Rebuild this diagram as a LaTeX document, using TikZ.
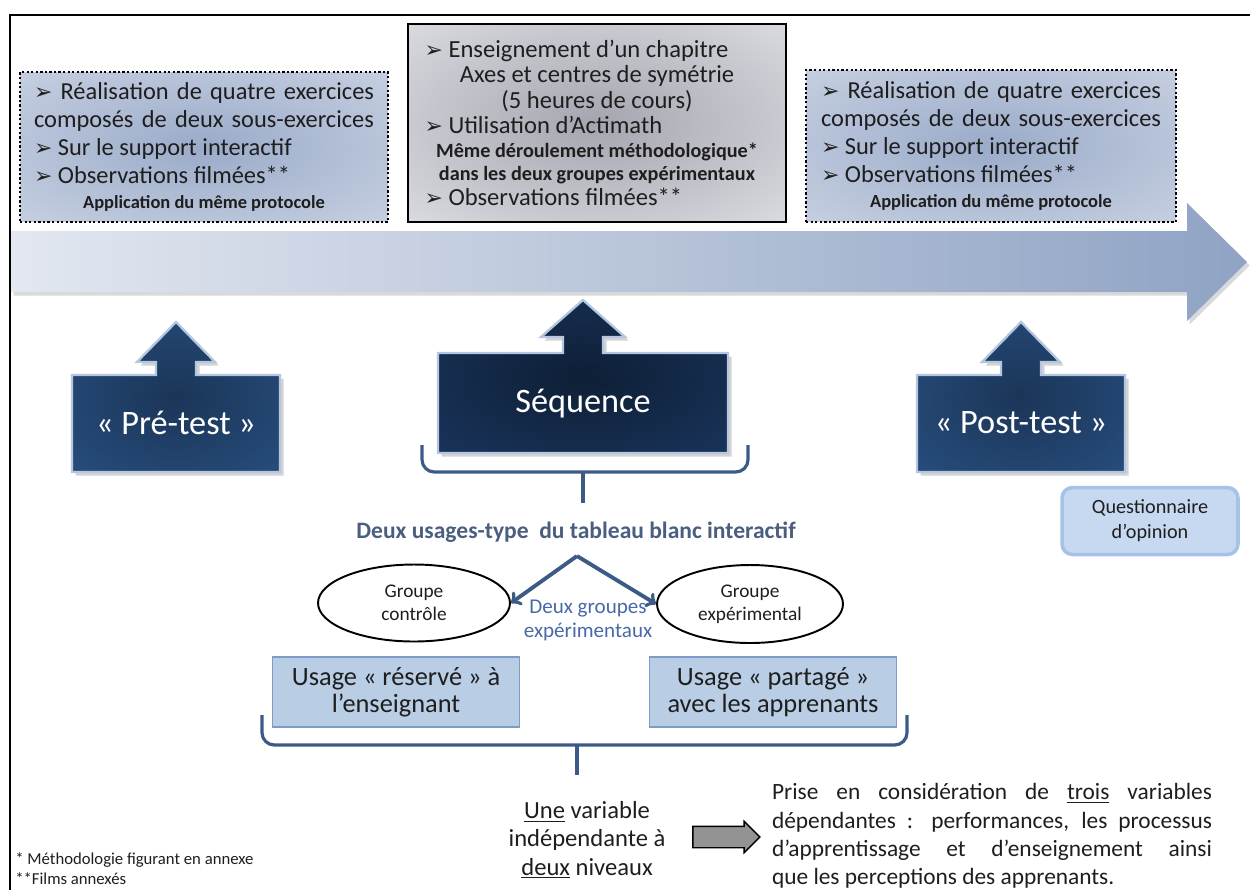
\documentclass[tikz,border=0pt]{standalone}
\usepackage{fontspec}
\setmainfont{Carlito}
\newfontfamily\symfont{DejaVu Sans}
\usetikzlibrary{shadows,shapes.geometric,shapes.arrows,positioning}

\definecolor{encre}{HTML}{1E1E1E}
\definecolor{axeA}{HTML}{E2E7F0}
\definecolor{axeB}{HTML}{8FA3C4}
\definecolor{voile}{HTML}{9AABC9}
\definecolor{voilebord}{HTML}{E4E8F1}
\definecolor{gris}{HTML}{A4A5AF}
\definecolor{grisbord}{HTML}{F0F1F4}
\definecolor{navyA}{HTML}{1B3558}
\definecolor{navyB}{HTML}{2E5C92}
\definecolor{nuitA}{HTML}{0E1F36}
\definecolor{nuitB}{HTML}{204070}
\definecolor{testbord}{HTML}{B4C6E0}
\definecolor{fleche}{HTML}{3B5A86}
\definecolor{bleutxt}{HTML}{4A5F80}
\definecolor{bleugr}{HTML}{4868A8}
\definecolor{usagefond}{HTML}{B9CDE5}
\definecolor{usagebord}{HTML}{7F9CC6}
\definecolor{questfond}{HTML}{C6D9F0}
\definecolor{questbord}{HTML}{A6C2E8}

\pgfdeclareradialshading{voileshade}{\pgfpoint{0bp}{0bp}}{color(0bp)=(voile); color(60bp)=(voilebord); color(80bp)=(voilebord)}
\pgfdeclareradialshading{grisshade}{\pgfpoint{0bp}{0bp}}{color(0bp)=(gris); color(50bp)=(grisbord); color(80bp)=(grisbord)}
\pgfdeclareradialshading{navyshade}{\pgfpoint{0bp}{0bp}}{color(0bp)=(navyA); color(58bp)=(navyB); color(80bp)=(navyB)}
\pgfdeclareradialshading{nuitshade}{\pgfpoint{0bp}{0bp}}{color(0bp)=(nuitA); color(58bp)=(nuitB); color(80bp)=(nuitB)}

\newcommand{\puce}{{\symfont\fontsize{12.5}{12.5}\selectfont ➢}\ }

\begin{document}
\begin{tikzpicture}[x=0.02cm, y=-0.02cm,
		protobox/.style={draw=black, line width=1.3pt, dash pattern=on 1.3pt off 1.3pt, shade, shading=voileshade, text width=6.8cm, align=justify, inner xsep=0.28cm, text=encre, font=\fontsize{13.9}{15.9}\selectfont},
		coursbox/.style={draw=black, line width=1.3pt, shade, shading=grisshade, text width=6.9cm, align=justify, inner xsep=0.33cm, text=encre, font=\fontsize{14}{14.5}\selectfont},
		testcadre/.style={draw=testbord, line width=1.3pt, shade, drop shadow={opacity=.35, shadow xshift=2pt, shadow yshift=-2pt}},
		testlabel/.style={text=white, font=\fontsize{19.5}{22}\selectfont},
		accolade/.style={draw=fleche, line width=1.8pt, rounded corners=7},
		groupe/.style={draw, ellipse, line width=1.1pt, align=center, text=encre, font=\fontsize{11}{13}\selectfont},
		usage/.style={draw=usagebord, fill=usagefond, line width=0.6pt, minimum width=4.95cm, minimum height=1.4cm, align=center, text=encre, font=\fontsize{15}{15.5}\selectfont}
	]

	\useasboundingbox (0,0) rectangle (1250,890);
	\draw[line width=1.15pt] (10,890) -- (10,15) -- (1250,15);

	\path[left color=axeA, right color=axeB, drop shadow={opacity=.3, shadow xshift=1.5pt, shadow yshift=-2pt}] (11,231) -- (1187,231) -- (1187,203) -- (1247,262) -- (1187,321) -- (1187,292) -- (11,292) -- cycle;

	\node[protobox, minimum width=7.36cm, minimum height=3cm] (pre) at (204,147) {
		\makebox[\hsize][s]{\puce Réalisation de quatre exercices}\par
		\makebox[\hsize][s]{composés de deux sous-exercices}\par
		\puce Sur le support interactif\par
		\puce Observations filmées**\par
		{\centering\bfseries\fontsize{10.5}{14.2}\selectfont Application du même protocole\par}
	};

	\node[coursbox, minimum width=7.56cm, minimum height=3.96cm] (cours) at (597,123) {
		\puce Enseignement d’un chapitre\par
		{\centering Axes et centres de symétrie\par
		(5 heures de cours)\par}
		\puce Utilisation d’Actimath\par
		{\centering\bfseries\fontsize{11.5}{13.3}\selectfont Même déroulement méthodologique*\par
		dans les deux groupes expérimentaux\par}
		\puce Observations filmées**
	};

	\node[protobox, minimum width=7.4cm, minimum height=3.04cm] (post) at (991,146) {
		\makebox[\hsize][s]{\puce Réalisation de quatre exercices}\par
		\makebox[\hsize][s]{composés de deux sous-exercices}\par
		\puce Sur le support interactif\par
		\puce Observations filmées**\par
		{\centering\bfseries\fontsize{10.5}{14.2}\selectfont Application du même protocole\par}
	};

	\path[testcadre, shading=navyshade] (72,472) -- (72,375) -- (156,375) -- (156,362) -- (137,362) -- (176,322) -- (215,362) -- (196,362) -- (196,375) -- (280,375) -- (280,472) -- cycle;
	\path[testcadre, shading=nuitshade] (438,453) -- (438,353) -- (563,353) -- (563,337) -- (541,337) -- (583,300) -- (625,337) -- (603,337) -- (603,353) -- (728,353) -- (728,453) -- cycle;
	\path[testcadre, shading=navyshade] (917,472) -- (917,375) -- (1001,375) -- (1001,362) -- (982,362) -- (1021,322) -- (1060,362) -- (1041,362) -- (1041,375) -- (1125,375) -- (1125,472) -- cycle;

	\node[testlabel] (pretest) at (176,423) {« Pré-test »};
	\node[testlabel] (sequence) at (583,404) {Séquence};
	\node[testlabel] (posttest) at (1021,423) {« Post-test »};

	\node[draw=questbord, line width=2pt, fill=questfond, rounded corners=6pt, minimum width=3.52cm, minimum height=1.34cm, align=center, text=encre, font=\fontsize{11.5}{14.2}\selectfont] (quest) at (1150,521) {Questionnaire\\d’opinion};

	\draw[accolade] (422,445) |- (748,472) -- (748,445);
	\draw[accolade] (583,472) -- (583,503);

	\node[text=bleutxt, font=\bfseries\fontsize{13.4}{15}\selectfont] (usages) at (576,532) {Deux usages-type \ du tableau blanc interactif};
	\coordinate (apex) at (577,556);

	\node[groupe, minimum width=3.84cm, minimum height=1.54cm] (grpc) at (414,603) {Groupe\\contrôle};
	\node[groupe, minimum width=3.72cm, minimum height=1.56cm] (grpe) at (750,604) {Groupe\\expérimental};

	\draw[->, draw=fleche, line width=2.2pt] (apex) -- (grpc.east);
	\draw[->, draw=fleche, line width=2.2pt] (apex) -- (grpe.west);

	\node[text=bleugr, align=center, font=\fontsize{12}{13.6}\selectfont] (deuxgr) at (588,620) {Deux groupes\\expérimentaux};

	\node[usage] (reserve) at (396,692) {Usage « réservé » à\\l’enseignant};
	\node[usage] (partage) at (773,692) {Usage « partagé »\\avec les apprenants};

	\draw[accolade] (262,715) |- (907,745) -- (907,715);
	\draw[accolade] (577,745) -- (577,775);

	\node[align=center, text=encre, font=\fontsize{14}{16.2}\selectfont] (var) at (587,840) {\underline{Une} variable\\indépendante à\\\underline{deux} niveaux};

	\node[single arrow, draw=black, fill=gray!85, line width=0.8pt, minimum height=1.34cm, minimum width=0.6cm, single arrow head extend=0.1cm, inner xsep=0pt, inner ysep=0.2cm] (blk) at (721,837) {};

	\node[text width=8.8cm, align=justify, inner sep=0pt, text=encre, font=\fontsize{13.3}{16.2}\selectfont] (dep) at (992,836) {
		\makebox[8.8cm][s]{Prise en considération de \underline{trois} variables}\\
		\makebox[8.8cm][s]{dépendantes : performances, les processus}\\
		\makebox[8.8cm][s]{d’apprentissage et d’enseignement ainsi}\\
		que les perceptions des apprenants.
	};

	\node[anchor=west, align=left, inner sep=0pt, text=encre, font=\fontsize{9.5}{11.3}\selectfont] (notes) at (15,869) {* Méthodologie figurant en annexe\\**Films annexés};

\end{tikzpicture}
\end{document}
